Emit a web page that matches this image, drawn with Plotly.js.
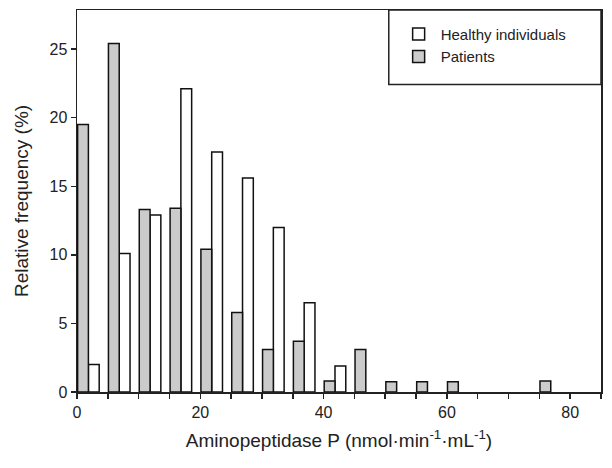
<!DOCTYPE html>
<html>
<head>
<meta charset="utf-8">
<script src="https://cdn.plot.ly/plotly-3.0.1.min.js"></script>
<style>html,body{margin:0;padding:0;background:#fff;}#chart{width:612px;height:468px;}</style>
</head>
<body>
<div id="chart"></div>
<script>
// Bin starts (nmol·min-1·mL-1)
const binStarts = [0, 5, 10, 15, 20, 25, 30, 35, 40, 45, 50, 55, 60, 65, 70, 75];
// Relative frequency (%), null = empty bin
const healthy  = [2.0, 10.1, 12.9, 22.1, 17.5, 15.6, 12.0, 6.5, 1.9, null, null, null, null, null, null, null];
const patients = [19.5, 25.4, 13.3, 13.4, 10.4, 5.8, 3.1, 3.7, 0.8, 3.1, 0.75, 0.75, 0.75, null, null, 0.8];
const xTicks = [0, 20, 40, 60, 80];
const yTicks = [0, 5, 10, 15, 20, 25];

const font = "Liberation Sans, Arial, sans-serif";
const lineCol = "#222";

const traces = [
  {
    type: "bar", name: "Healthy individuals", x: binStarts, y: healthy,
    offset: 1.85, width: 1.75,
    marker: {color: "#ffffff", line: {color: "#111", width: 1.5}}
  },
  {
    type: "bar", name: "Patients", x: binStarts, y: patients,
    offset: 0.1, width: 1.75,
    marker: {color: "#cbcbcb", line: {color: "#111", width: 1.5}}
  }
];

const layout = {
  width: 612, height: 468,
  margin: {l: 77, r: 11, t: 10, b: 76},
  paper_bgcolor: "#fff", plot_bgcolor: "#fff",
  barmode: "overlay",
  showlegend: true,
  legend: {
    x: 0.61, y: 0.98, xanchor: "left", yanchor: "top",
    bgcolor: "rgba(0,0,0,0)", borderwidth: 0,
    font: {family: font, size: 15, color: "#222"},
    tracegroupgap: 2, traceorder: "normal", itemwidth: 34
  },
  xaxis: {
    range: [0, 85], tickvals: xTicks, ticks: "outside", ticklen: 5, tickwidth: 1.5, tickcolor: lineCol,
    minor: {dtick: 5, tick0: 0, ticks: "outside", ticklen: 5, tickwidth: 1.5, tickcolor: lineCol, showgrid: false},
    showline: true, linecolor: lineCol, linewidth: 1.5, mirror: true, showgrid: false, zeroline: false,
    tickfont: {family: font, size: 16, color: "#222"},
    title: {text: "Aminopeptidase P (nmol·min<sup>-1</sup>·mL<sup>-1</sup>)", font: {family: font, size: 19, color: "#222"}, standoff: 14}
  },
  yaxis: {
    range: [0, 27.85], tickvals: yTicks, ticks: "outside", ticklen: 5, tickwidth: 1.5, tickcolor: lineCol,
    showline: true, linecolor: lineCol, linewidth: 1.5, mirror: true, showgrid: false, zeroline: false,
    tickfont: {family: font, size: 16, color: "#222"},
    title: {text: "Relative frequency (%)", font: {family: font, size: 19, color: "#222"}, standoff: 16}
  },
  shapes: [
    {type: "rect", xref: "paper", yref: "paper", x0: 0.595, x1: 1.0, y0: 0.805, y1: 1.0,
     line: {color: lineCol, width: 1.5}, fillcolor: "rgba(0,0,0,0)"}
  ]
};

Plotly.newPlot("chart", traces, layout, {displayModeBar: false, staticPlot: true});
</script>
</body>
</html>
